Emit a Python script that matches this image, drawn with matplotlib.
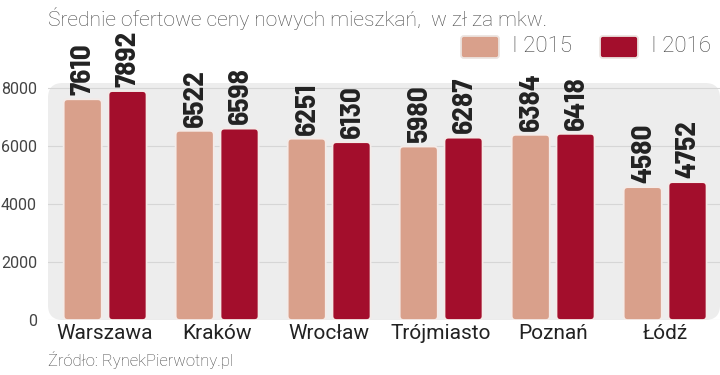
import matplotlib
matplotlib.use('Agg')
import matplotlib.pyplot as plt
from matplotlib.patches import FancyBboxPatch
import numpy as np

# data
cities = ['Warszawa', 'Kraków', 'Wrocław', 'Trójmiasto', 'Poznań', 'Łódź']
prices_2015 = [7610, 6522, 6251, 5980, 6384, 4580]
prices_2016 = [7892, 6598, 6130, 6287, 6418, 4752]
series_labels = ['I 2015', 'I 2016']
yticks = [0, 2000, 4000, 6000, 8000]

colors = ['#d9a08b', '#a30e2c']
plt.rcParams['font.family'] = ['Roboto', 'DejaVu Sans']

fig = plt.figure(figsize=(7.2, 3.75), dpi=100)
ax = fig.add_axes([48/720, 1-320/375, 672/720, 237/375])
ax.set_xlim(-0.51, 5.49)
ax.set_ylim(0, 8170)
ax.patch.set_visible(False)
for s in ax.spines.values():
    s.set_visible(False)

# rounded grey background
bg = FancyBboxPatch((0, 0), 1, 1, boxstyle='round,pad=0,rounding_size=0.022',
                    mutation_aspect=2.84, transform=ax.transAxes,
                    facecolor='#ededed', edgecolor='none', zorder=0)
ax.add_patch(bg)

ax.set_yticks(yticks)
ax.set_yticklabels([str(t) for t in yticks])
ax.grid(axis='y', color='#d6d6d6', linewidth=0.8, zorder=1)
ax.tick_params(axis='y', length=0, pad=8, labelsize=11.5, labelcolor='#444444')
ax.tick_params(axis='x', length=0, pad=3, labelsize=15, labelcolor='#222222')
ax.set_axisbelow(True)

x = np.arange(len(cities))
w = 0.34
# px -> data units, for rounded bar corners
asp = (8170/237) / (6.0/672)
for i, (vals, col) in enumerate(zip([prices_2015, prices_2016], colors)):
    bars = ax.bar(x + (i - 0.5) * 0.4, vals, w, color=col)
    for b, v in zip(bars, vals):
        bx, by = b.get_xy()
        rp = FancyBboxPatch((bx, by), b.get_width(), b.get_height(),
                            boxstyle='round,pad=0,rounding_size=0.035',
                            mutation_aspect=asp, facecolor=col,
                            edgecolor='#f4ebe8', linewidth=1.3, zorder=3)
        ax.add_patch(rp)
        b.remove()
        ax.annotate(str(v), (bx + b.get_width()/2, v), xytext=(0.5, 3),
                    textcoords='offset points', rotation=90, ha='center',
                    va='bottom', fontsize=21, fontweight='bold',
                    family=['Barlow Semi Condensed', 'DejaVu Sans'],
                    color='#222222', annotation_clip=False)

ax.set_xticks(x)
ax.set_xticklabels(cities)

# title, legend, source
fig.text(48/720, 1-18/375, 'Średnie ofertowe ceny nowych mieszkań,  w zł za mkw.',
         fontsize=15.1, fontweight='light', color='#4a4a4a', va='center')
for i, (lab, col) in enumerate(zip(series_labels, colors)):
    x0 = [461, 600][i]
    fig.add_artist(FancyBboxPatch((x0/720, 1-58/375), 38/720, 22/375,
                                  boxstyle='round,pad=0,rounding_size=0.004',
                                  mutation_aspect=1.9, transform=fig.transFigure,
                                  facecolor=col, edgecolor='#ece4e0', linewidth=1.3))
    fig.text((x0+51)/720, 1-47/375, lab, fontsize=16, fontweight='light',
             color='#444444', va='center')
fig.text(48/720, 1-360/375, 'Źródło: RynekPierwotny.pl', fontsize=12,
         fontweight='light', color='#444444', va='center')

fig.savefig('out.png', dpi=100)
